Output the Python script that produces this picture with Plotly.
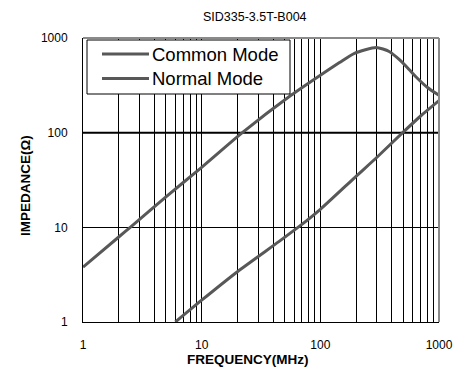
import plotly.graph_objects as go

# Common mode impedance curve (MHz, ohm)
cm_freq = [1, 2, 2.5, 5, 10, 22, 57, 100, 145, 194, 296, 380, 464, 560, 638, 800, 1000]
cm_imp = [3.8, 7.9, 10, 21, 43, 100, 250, 405, 550, 690, 795, 720, 590, 465, 390, 300, 248]

# Normal mode impedance curve (MHz, ohm)
nm_freq = [6, 10, 20, 45, 69, 100, 197, 300, 494, 700, 1000]
nm_imp = [1, 1.7, 3.4, 7.1, 10.6, 15.5, 34, 55, 100, 150, 218]

series_names = ["Common Mode", "Normal Mode"]

# Axis ticks
x_decades = [1, 10, 100, 1000]
y_decades = [1, 10, 100, 1000]
ref_level = 100

x_grid = []
for d in x_decades[:-1]:
    x_grid += [d * k for k in range(1, 10)]
x_grid.append(x_decades[-1])
x_text = [str(v) if v in x_decades else "" for v in x_grid]

curve_color = "#585858"
font = "Liberation Sans, Arial, sans-serif"

# plot area geometry in pixels, used to place the hand-built legend and labels
L, R, T, B = 83, 439, 38, 322
PW, PH = R - L, B - T


def px(x):
    return (x - L) / PW


def py(y):
    return (B - y) / PH


fig = go.Figure()

# heavier horizontal reference at 100 ohm
fig.add_trace(go.Scatter(
    x=[x_decades[0], x_decades[-1]], y=[ref_level, ref_level], mode="lines",
    line=dict(color="black", width=2), showlegend=False, hoverinfo="skip"))

fig.add_trace(go.Scatter(
    x=cm_freq, y=cm_imp, mode="lines", name=series_names[0],
    line=dict(color=curve_color, width=3, shape="spline", smoothing=0.6)))
fig.add_trace(go.Scatter(
    x=nm_freq, y=nm_imp, mode="lines", name=series_names[1],
    line=dict(color=curve_color, width=3, shape="spline", smoothing=0.6)))

shapes = [
    dict(type="line", xref="paper", yref="paper", x0=0, x1=1, y0=1, y1=1,
         line=dict(color="#8a8a8a", width=2)),
    dict(type="line", xref="paper", yref="paper", x0=1, x1=1, y0=0, y1=1,
         line=dict(color="#8a8a8a", width=2)),
    # legend box
    dict(type="rect", xref="paper", yref="paper",
         x0=px(87), x1=px(290), y0=py(94), y1=py(40),
         fillcolor="white", line=dict(color="black", width=1), layer="above"),
]
annotations = [
    dict(text="SID335-3.5T-B004", xref="paper", yref="paper",
         x=px(255), y=py(17), xanchor="center", yanchor="middle",
         showarrow=False, font=dict(size=12.5, family=font, color="black")),
    dict(text="<b>FREQUENCY(MHz)</b>", xref="paper", yref="paper",
         x=px(248), y=py(359), xanchor="center", yanchor="middle",
         showarrow=False, font=dict(size=13.5, family=font, color="black")),
    dict(text="<b>IMPEDANCE(Ω)</b>", xref="paper", yref="paper",
         x=px(25), y=py(186), xanchor="center", yanchor="middle",
         textangle=-90, showarrow=False,
         font=dict(size=13.5, family=font, color="black")),
]

# legend entries: sample line + label
for i, name in enumerate(series_names):
    yc = 54 + i * 24.5
    shapes.append(dict(type="line", xref="paper", yref="paper",
                       x0=px(102), x1=px(149), y0=py(yc), y1=py(yc),
                       line=dict(color=curve_color, width=3), layer="above"))
    annotations.append(dict(text=name, xref="paper", yref="paper",
                            x=px(150), y=py(yc), xanchor="left", yanchor="middle",
                            showarrow=False,
                            font=dict(size=18.5, family=font, color="black")))

fig.update_layout(
    width=470, height=367,
    margin=dict(l=L, r=470 - R, t=T, b=367 - B),
    paper_bgcolor="white", plot_bgcolor="white",
    font=dict(family=font, color="black", size=12),
    showlegend=False,
    xaxis=dict(
        type="log", range=[0, 3],
        tickmode="array", tickvals=x_grid, ticktext=x_text,
        showgrid=True, gridcolor="black", gridwidth=1,
        showline=True, linecolor="black", linewidth=1,
        ticks="outside", ticklen=12, tickcolor="rgba(0,0,0,0)",
        tickfont=dict(size=12, family=font, color="black"),
        zeroline=False,
    ),
    yaxis=dict(
        type="log", range=[0, 3],
        tickmode="array", tickvals=y_decades,
        ticktext=[str(v) for v in y_decades],
        showgrid=True, gridcolor="black", gridwidth=1,
        showline=True, linecolor="black", linewidth=1,
        ticks="outside", ticklen=12, tickcolor="rgba(0,0,0,0)",
        tickfont=dict(size=12, family=font, color="black"),
        zeroline=False,
    ),
    shapes=shapes,
    annotations=annotations,
)

fig.write_html("out.html")
